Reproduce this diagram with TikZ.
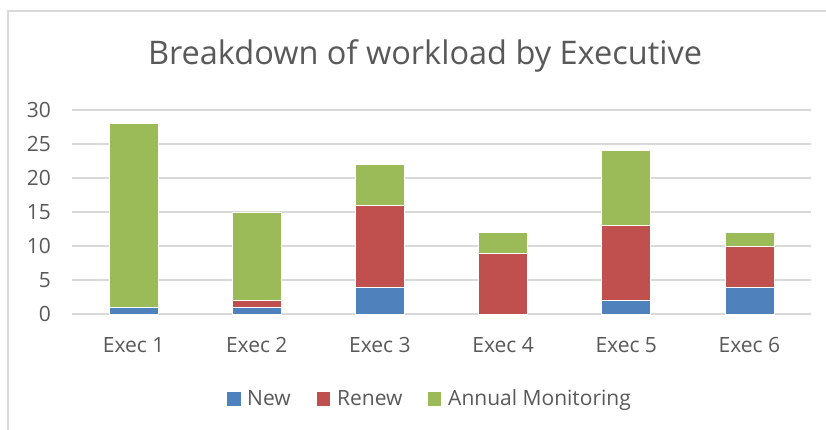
\documentclass[tikz,border=0pt]{standalone}
\usepackage{fontspec}
\setmainfont{Open Sans}
\definecolor{txt}{HTML}{595959}
\definecolor{gridc}{HTML}{D9D9D9}
\definecolor{cnew}{HTML}{4F81BD}
\definecolor{cren}{HTML}{C0504D}
\definecolor{cam}{HTML}{9BBB59}
\tikzset{
  gridline/.style={draw=gridc, line width=1.4pt},
  lab/.style={text=txt, inner sep=0pt, font=\fontsize{21}{25}\selectfont},
  titlelab/.style={text=txt, inner sep=0pt, font=\fontsize{32.5}{38}\selectfont},
  seg/.style={draw=white, line width=0.6pt},
}
\begin{document}
\begin{tikzpicture}[x=1pt,y=-1pt]
\useasboundingbox (0,0) rectangle (826,430);
\fill[white] (0,0) rectangle (826,430);
\begin{scope}
\clip (0,0) rectangle (826,430);
\draw[draw=gridc, line width=1.5pt] (8,11) rectangle (850,450);
\end{scope}
% title
\node[titlelab, anchor=base] (title) at (425,65) {Breakdown of workload by Executive};
% grid and y labels
\foreach \v in {0,5,...,30}{
  \pgfmathsetmacro{\yy}{314-6.8*\v}
  \coordinate (gl\v) at (72,\yy);
  \coordinate (gr\v) at (811,\yy);
  \draw[gridline] (gl\v) -- (gr\v);
  \node[lab, anchor=east] (y\v) at (51,\yy) {\v};
}
% bars
\foreach \i/\a/\b/\c in {1/1/0/27, 2/1/1/13, 3/4/12/6, 4/0/9/3, 5/2/11/11, 6/4/6/2}{
  \pgfmathsetmacro{\cx}{72+123.17*(\i-0.5)}
  \pgfmathsetmacro{\xl}{\cx-24.5}
  \pgfmathsetmacro{\xr}{\cx+24.5}
  \pgfmathsetmacro{\ya}{314-6.8*\a}
  \pgfmathsetmacro{\yb}{314-6.8*(\a+\b)}
  \pgfmathsetmacro{\yc}{314-6.8*(\a+\b+\c)}
  \ifnum\a>0 \filldraw[seg, fill=cnew] (\xl,314) rectangle (\xr,\ya); \fi
  \ifnum\b>0 \filldraw[seg, fill=cren] (\xl,\ya) rectangle (\xr,\yb); \fi
  \ifnum\c>0 \filldraw[seg, fill=cam] (\xl,\yb) rectangle (\xr,\yc); \fi
  \node[lab, anchor=base] (x\i) at (\cx,352) {Exec \i};
}
% legend
\fill[cnew] (227,392) rectangle (240.7,405.7);
\node[lab, anchor=base west] (lnew) at (247,405.7) {New};
\fill[cren] (316.7,392) rectangle (330.4,405.7);
\node[lab, anchor=base west] (lren) at (337,405.7) {Renew};
\fill[cam] (427.7,392) rectangle (441.4,405.7);
\node[lab, anchor=base west] (lam) at (448,405.7) {Annual Monitoring};
\end{tikzpicture}
\end{document}
